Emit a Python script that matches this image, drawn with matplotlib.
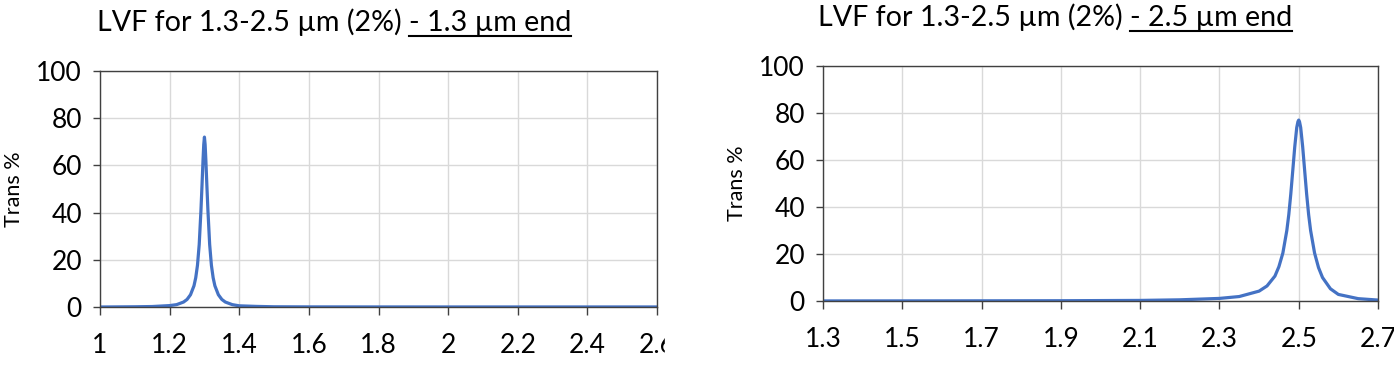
import matplotlib
matplotlib.use('Agg')
import matplotlib.pyplot as plt
from matplotlib.lines import Line2D

plt.rcParams['font.family'] = ['Lato', 'DejaVu Sans']

# 1.3 um end of the LVF
wl_a = [1.0, 1.1, 1.15, 1.2, 1.22, 1.24, 1.25, 1.26, 1.27, 1.275, 1.28, 1.285, 1.29, 1.293,
        1.296, 1.298, 1.3, 1.302, 1.304, 1.307, 1.31, 1.315, 1.32, 1.325, 1.33, 1.34, 1.35,
        1.36, 1.38, 1.4, 1.45, 1.5, 1.6, 1.8, 2.0, 2.2, 2.4, 2.6]
tr_a = [0.0, 0.1, 0.2, 0.6, 1.0, 2.1, 3.2, 5.2, 9.0, 12.4, 17.7, 26.5, 41.0, 51.5,
        62.5, 68.8, 72.0, 68.8, 62.5, 51.5, 41.0, 26.5, 17.7, 12.4, 9.0, 5.2, 3.2,
        2.1, 1.0, 0.5, 0.25, 0.1, 0.05, 0.03, 0.02, 0.02, 0.02, 0.02]

# 2.5 um end of the LVF
wl_b = [1.3, 1.6, 1.9, 2.1, 2.2, 2.3, 2.35, 2.4, 2.42, 2.44, 2.45, 2.46, 2.47, 2.475, 2.48,
        2.485, 2.49, 2.495, 2.498, 2.5, 2.502, 2.505, 2.51, 2.515, 2.52, 2.525, 2.53, 2.54,
        2.55, 2.56, 2.58, 2.6, 2.65, 2.7]
tr_b = [0.03, 0.06, 0.12, 0.25, 0.5, 1.1, 1.9, 4.2, 6.4, 10.6, 14.6, 20.4, 30.0, 36.8, 45.5,
        55.5, 65.6, 73.8, 76.3, 77.0, 76.3, 73.8, 65.6, 55.5, 45.5, 36.8, 30.0, 20.4,
        14.2, 10.0, 5.2, 2.8, 1.0, 0.4]

xticks_a = [1, 1.2, 1.4, 1.6, 1.8, 2, 2.2, 2.4, 2.6]
xticks_b = [1.3, 1.5, 1.7, 1.9, 2.1, 2.3, 2.5, 2.7]
yticks = [0, 20, 40, 60, 80, 100]

BLUE = '#4472C4'
GRID = '#D9D9D9'
SPINE = '#404040'

fig = plt.figure(figsize=(13.94, 3.66), dpi=100)
W, H = 1394., 366.


def make_ax(l, r, t, b):
    return fig.add_axes([l / W, 1 - b / H, (r - l) / W, (b - t) / H])


def style(ax, xt, xlabs):
    ax.set_xticks(xt)
    ax.set_xticklabels(xlabs)
    ax.set_yticks(yticks)
    ax.set_xlim(xt[0], xt[-1])
    ax.set_ylim(0, 100)
    ax.grid(True, color=GRID, lw=1.0)
    ax.set_axisbelow(True)
    for s in ax.spines.values():
        s.set_color(SPINE)
        s.set_linewidth(1.0)
    ax.tick_params(axis='x', direction='out', length=6, width=1, color=SPINE,
                   labelsize=19, pad=13)
    ax.tick_params(axis='y', direction='out', length=5, width=1, color=SPINE,
                   labelsize=19, pad=8)
    ax.set_ylabel('Trans %', fontsize=15.5, labelpad=9)


ax1 = make_ax(100, 657, 71, 307)
ax1.plot(wl_a, tr_a, color=BLUE, lw=2.3)
style(ax1, xticks_a, ['1', '1.2', '1.4', '1.6', '1.8', '2', '2.2', '2.4', '2.6'])

ax2 = make_ax(823, 1378, 66, 301)
ax2.plot(wl_b, tr_b, color=BLUE, lw=2.3)
style(ax2, xticks_b, ['1.3', '1.5', '1.7', '1.9', '2.1', '2.3', '2.5', '2.7'])

# titles: plain part + underlined part
titles = [(97, 31, 'LVF for 1.3-2.5 µm (2%) ', '- 1.3 µm end'),
          (818, 26, 'LVF for 1.3-2.5 µm (2%) ', '- 2.5 µm end')]
parts = []
for x0, yb, a, b in titles:
    t1 = fig.text(x0 / W, 1 - yb / H, a, fontsize=20.6, va='baseline', ha='left')
    t2 = fig.text(0, 0, b, fontsize=20.6, va='baseline', ha='left')
    parts.append((t1, t2, yb))

fig.canvas.draw()
r = fig.canvas.get_renderer()
for t1, t2, yb in parts:
    bb = t1.get_window_extent(r)
    t2.set_position((bb.x1 / W, 1 - yb / H))
fig.canvas.draw()
for t1, t2, yb in parts:
    bb = t2.get_window_extent(r)
    yl = 1 - (yb + 5) / H
    fig.add_artist(Line2D([bb.x0 / W, bb.x1 / W], [yl, yl], color='black',
                          lw=1.5, transform=fig.transFigure))

# the left chart was cropped, cutting off its last tick label
fig.add_artist(plt.Rectangle((665 / W, 0), 35 / W, 60 / H, color='white',
                             transform=fig.transFigure, zorder=10))

fig.savefig('out.png', dpi=100)
